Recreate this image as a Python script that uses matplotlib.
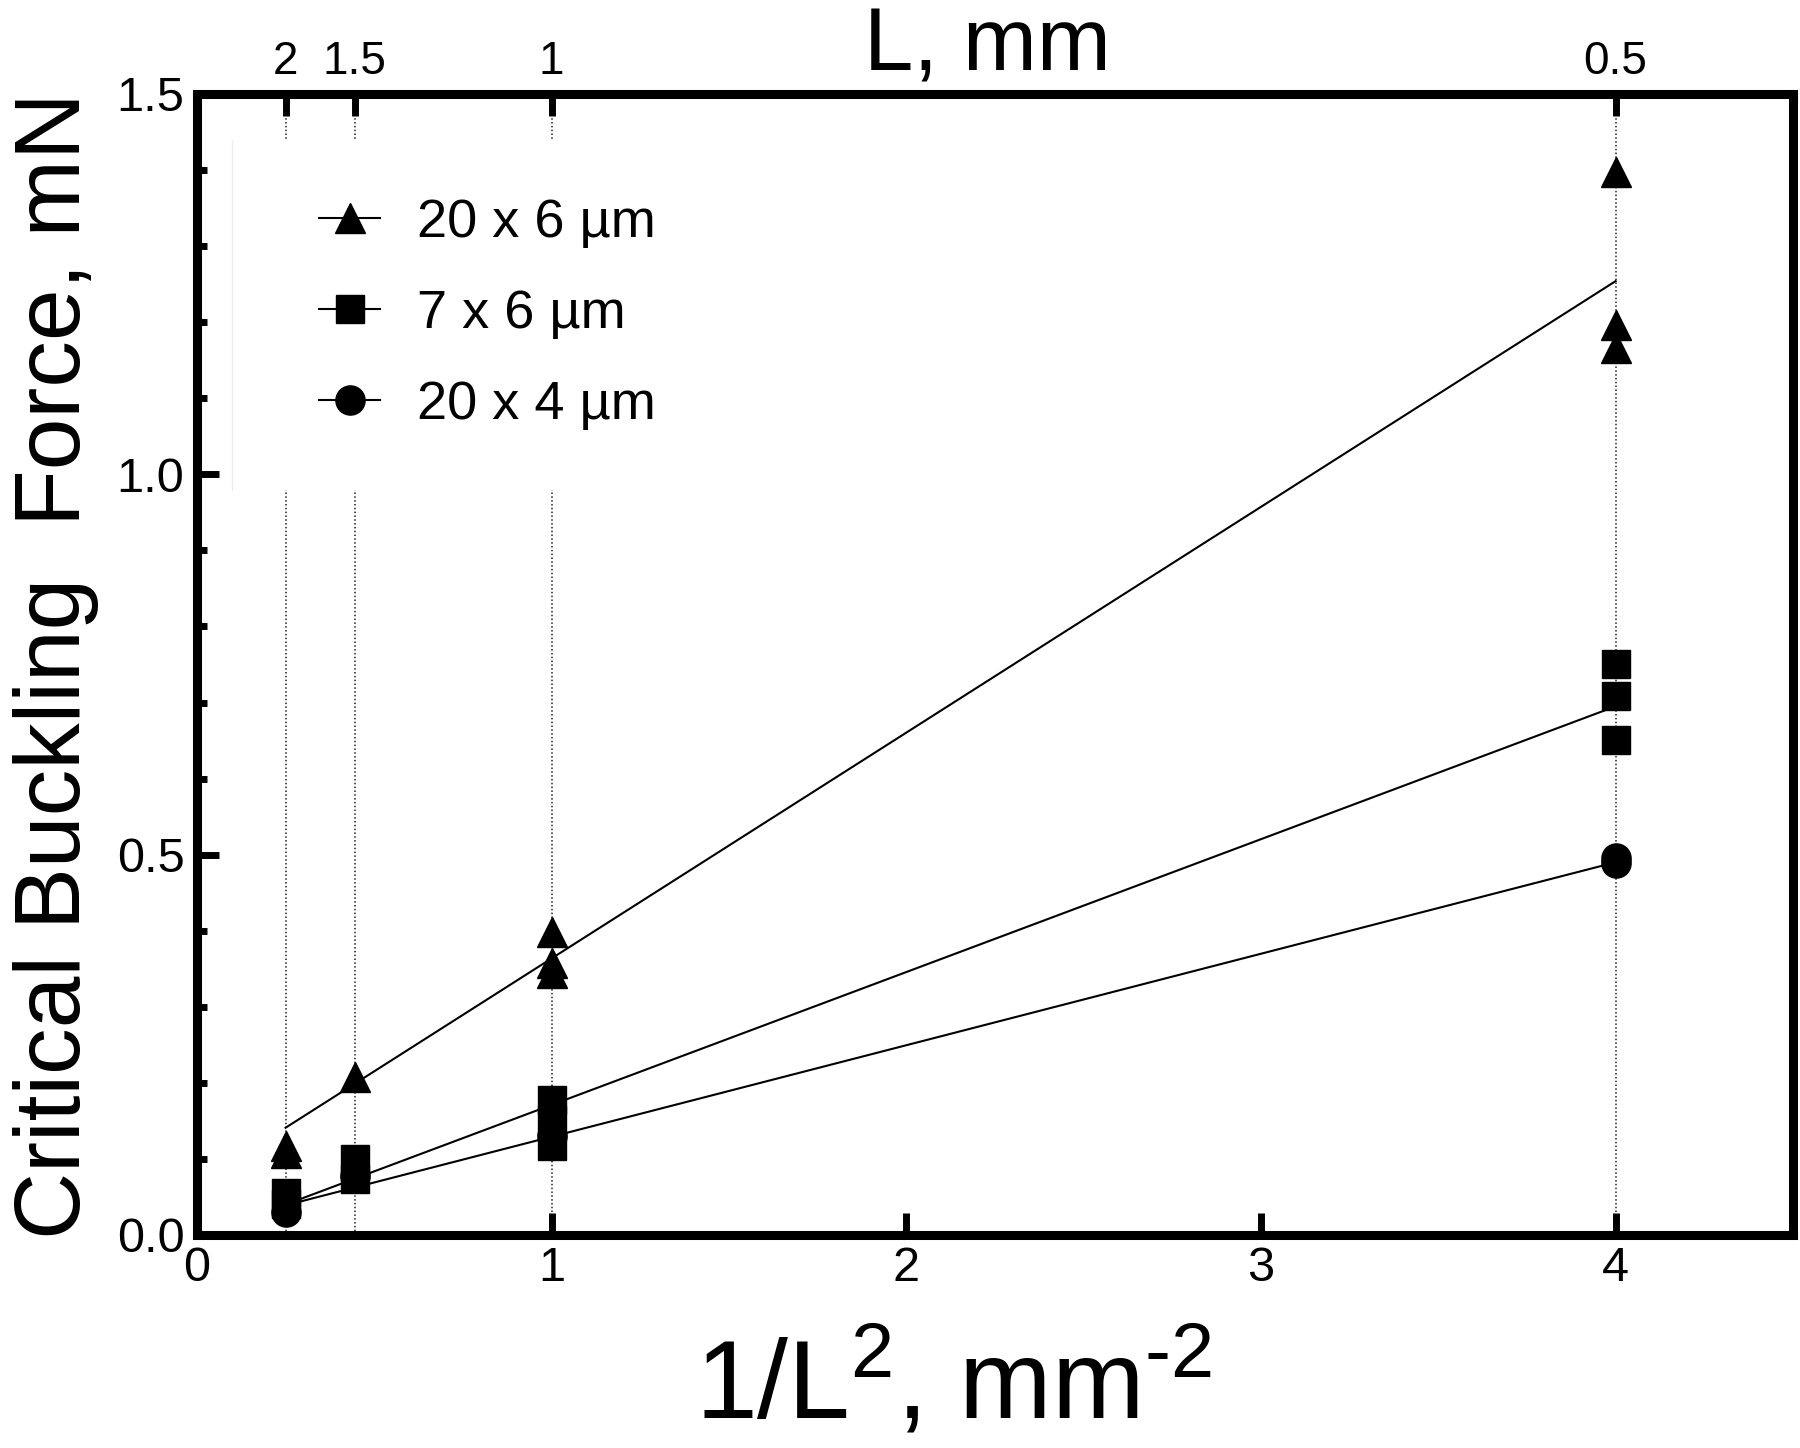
import matplotlib
matplotlib.use('Agg')
import matplotlib.pyplot as plt
from matplotlib.lines import Line2D
from matplotlib.patches import Rectangle
from matplotlib.ticker import MultipleLocator, NullLocator, FormatStrFormatter

plt.rcParams['font.family'] = ['Liberation Sans', 'DejaVu Sans']
plt.rcParams['mathtext.fontset'] = 'custom'
plt.rcParams['mathtext.rm'] = 'Liberation Sans'
plt.rcParams['mathtext.it'] = 'Liberation Sans:italic'
plt.rcParams['mathtext.bf'] = 'Liberation Sans:bold'

# ---- data ----
L_mm = [2.0, 1.5, 1.0, 0.5]                  # beam lengths (top axis)
top_tick_labels = ['2', '1.5', '1', '0.5']
bottom_ticks = [0, 1, 2, 3, 4]
y_ticks = [0.0, 0.5, 1.0, 1.5]
series_labels = ['20 x 6 µm', '7 x 6 µm', '20 x 4 µm']

# 20 x 6 um (triangles)
tri_L = [2.0, 2.0, 1.5, 1.0, 1.0, 1.0, 0.5, 0.5, 0.5]
tri_F = [0.117, 0.108, 0.208, 0.398, 0.357, 0.345, 1.397, 1.196, 1.166]
# 7 x 6 um (squares)
sq_L = [2.0, 2.0, 1.5, 1.5, 1.0, 1.0, 1.0, 0.5, 0.5, 0.5]
sq_F = [0.055, 0.041, 0.100, 0.074, 0.178, 0.151, 0.117, 0.751, 0.709, 0.651]
# 20 x 4 um (circles)
ci_L = [2.0, 1.5, 1.0, 0.5, 0.5]
ci_F = [0.030, 0.078, 0.130, 0.496, 0.489]

# linear fit lines (end points)
fit_L = [2.0, 0.5]
fit_tri = [0.141, 1.254]
fit_sq = [0.040, 0.695]
fit_ci = [0.039, 0.490]


def inv_sq(Ls):
    return [1.0 / (v * v) for v in Ls]


fig = plt.figure(figsize=(18, 14.48), dpi=100)
ax = fig.add_axes([0.1094, 0.1471, 0.8867, 0.7880])
ax.set_xlim(0, 4.5)
ax.set_ylim(0, 1.5)

# dotted vertical guide lines at the measured lengths
for xv in inv_sq(L_mm):
    ax.axvline(xv, color='#222222', lw=1.1, ls=(0, (1, 1.5)), zorder=1)

# white legend background box (only a faint left edge is visible)
ax.add_patch(Rectangle((0.022, 0.653), 0.29, 0.307, transform=ax.transAxes,
                       facecolor='white', edgecolor='none', zorder=1.5))
ax.plot([0.022, 0.022], [0.653, 0.960], transform=ax.transAxes,
        color='#eeeeee', lw=1, zorder=1.6)

# fit lines
fx = inv_sq(fit_L)
ax.plot(fx, fit_tri, color='black', lw=1.5, zorder=2)
ax.plot(fx, fit_sq, color='black', lw=1.5, zorder=2)
ax.plot(fx, fit_ci, color='black', lw=1.5, zorder=2)

# data markers
ax.plot(inv_sq(ci_L), ci_F, ls='none', marker='o', ms=21, color='black', mec='black', zorder=3)
ax.plot(inv_sq(sq_L), sq_F, ls='none', marker='s', ms=20, color='black', mec='black', zorder=4)
ax.plot(inv_sq(tri_L), tri_F, ls='none', marker='^', ms=21, color='black', mec='black', zorder=5)

# axes styling
for s in ax.spines.values():
    s.set_linewidth(6.5)
ax.set_xticks(bottom_ticks)
ax.set_yticks(y_ticks)
ax.yaxis.set_major_formatter(FormatStrFormatter('%.1f'))
ax.yaxis.set_minor_locator(MultipleLocator(0.1))
ax.xaxis.set_minor_locator(NullLocator())
ax.tick_params(which='major', direction='in', length=16, width=5, labelsize=35,
               top=False, right=False)
ax.tick_params(which='minor', direction='in', length=7, width=5, top=False, right=False)
ax.tick_params(axis='x', pad=8)
ax.tick_params(axis='y', pad=9)

ax.set_ylabel('Critical Buckling  Force, mN', fontsize=67)
ax.yaxis.set_label_coords(-0.0733, 0.4987)
ax.yaxis.label.set_va('baseline')

ax.set_xlabel(r'1/L$^{2}$, mm$^{\text{-}2}$', fontsize=80)
ax.xaxis.set_label_coords(0.474, -0.1604)
ax.xaxis.label.set_va('baseline')

# top axis with L values
ax2 = ax.twiny()
ax2.set_xlim(ax.get_xlim())
ax2.set_xticks(inv_sq(L_mm))
ax2.set_xticklabels(top_tick_labels)
ax2.xaxis.set_minor_locator(NullLocator())
ax2.tick_params(direction='in', length=16, width=5, labelsize=33, pad=7)
for s in ax2.spines.values():
    s.set_visible(False)
ax2.set_xlabel('L, mm', fontsize=64)
ax2.xaxis.set_label_coords(0.495, 1.0202)
ax2.xaxis.label.set_va('baseline')

# legend
handles = [
    Line2D([], [], color='black', lw=1.5, marker='^', ms=21),
    Line2D([], [], color='black', lw=1.5, marker='s', ms=20),
    Line2D([], [], color='black', lw=1.5, marker='o', ms=21),
]
ax.legend(handles, series_labels, loc='upper left',
          bbox_to_anchor=((319 - 197) / 1596, 0.9088), frameon=False,
          fontsize=39, handlelength=1.13, handletextpad=0.68,
          labelspacing=0.76, borderpad=0, borderaxespad=0, handleheight=0.7)

fig.savefig('out.png', dpi=100)
